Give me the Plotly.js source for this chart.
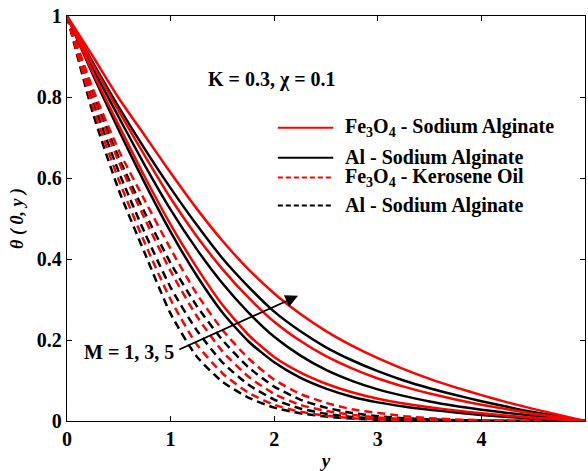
<!DOCTYPE html>
<html>
<head>
<meta charset="utf-8">
<script src="https://cdn.plot.ly/plotly-3.0.1.min.js"></script>
<style>html,body{margin:0;padding:0;background:#fff}#chart{width:588px;height:471px}</style>
</head>
<body>
<div id="chart"></div>
<script>
// distance y (uniform step 0.25)
const yPos = [0, 0.25, 0.5, 0.75, 1, 1.25, 1.5, 1.75, 2, 2.25, 2.5, 2.75, 3, 3.25, 3.5, 3.75, 4, 4.25, 4.5, 4.75, 5];

// Fe3O4 - Sodium Alginate (solid red), M = 1, 3, 5
const feSA_M1 = [1, 0.86, 0.73, 0.603, 0.485, 0.38, 0.287, 0.213, 0.158, 0.12, 0.092, 0.071, 0.055, 0.043, 0.034, 0.026, 0.019, 0.013, 0.008, 0.004, 0];
const feSA_M3 = [1, 0.88, 0.765, 0.655, 0.55, 0.457, 0.375, 0.305, 0.245, 0.198, 0.16, 0.13, 0.105, 0.085, 0.068, 0.053, 0.04, 0.029, 0.018, 0.009, 0];
const feSA_M5 = [1, 0.90, 0.797, 0.705, 0.613, 0.525, 0.445, 0.375, 0.315, 0.265, 0.222, 0.186, 0.155, 0.128, 0.104, 0.083, 0.064, 0.046, 0.03, 0.015, 0];

// Al - Sodium Alginate (solid black), M = 1, 3, 5
const alSA_M1 = [1, 0.855, 0.718, 0.588, 0.467, 0.36, 0.268, 0.197, 0.145, 0.107, 0.08, 0.06, 0.046, 0.036, 0.028, 0.021, 0.015, 0.01, 0.006, 0.003, 0];
const alSA_M3 = [1, 0.87, 0.75, 0.632, 0.522, 0.425, 0.34, 0.268, 0.208, 0.162, 0.126, 0.099, 0.078, 0.062, 0.048, 0.037, 0.028, 0.02, 0.013, 0.006, 0];
const alSA_M5 = [1, 0.885, 0.775, 0.672, 0.575, 0.485, 0.402, 0.332, 0.27, 0.222, 0.182, 0.15, 0.123, 0.10, 0.081, 0.064, 0.049, 0.035, 0.022, 0.011, 0];

// Fe3O4 - Kerosene Oil (dashed red), M = 1, 3, 5
const feKO_M1 = [1, 0.775, 0.595, 0.44, 0.30, 0.19, 0.118, 0.07, 0.04, 0.023, 0.013, 0.007, 0.004, 0.002, 0.001, 0, 0, 0, 0, 0, 0];
const feKO_M3 = [1, 0.80, 0.64, 0.50, 0.37, 0.26, 0.172, 0.11, 0.067, 0.04, 0.025, 0.015, 0.009, 0.005, 0.003, 0.002, 0.001, 0, 0, 0, 0];
const feKO_M5 = [1, 0.82, 0.668, 0.545, 0.425, 0.315, 0.225, 0.155, 0.102, 0.067, 0.045, 0.029, 0.02, 0.012, 0.007, 0.004, 0.002, 0.001, 0, 0, 0];

// Al - Sodium Alginate (dashed black), M = 1, 3, 5
const alD_M1 = [1, 0.76, 0.57, 0.415, 0.265, 0.16, 0.097, 0.058, 0.033, 0.019, 0.011, 0.006, 0.003, 0.002, 0.001, 0, 0, 0, 0, 0, 0];
const alD_M3 = [1, 0.79, 0.615, 0.465, 0.33, 0.225, 0.145, 0.09, 0.053, 0.031, 0.018, 0.01, 0.006, 0.003, 0.002, 0.001, 0, 0, 0, 0, 0];
const alD_M5 = [1, 0.81, 0.65, 0.515, 0.39, 0.285, 0.20, 0.133, 0.085, 0.053, 0.033, 0.02, 0.012, 0.007, 0.004, 0.002, 0.001, 0, 0, 0, 0];

const legendNames = ["Fe<sub>3</sub>O<sub>4</sub> - Sodium Alginate", "Al - Sodium Alginate",
                     "Fe<sub>3</sub>O<sub>4</sub> - Kerosene Oil", "Al - Sodium Alginate"];
const xTicks = [0, 1, 2, 3, 4, 5];
const yTicks = [0, 0.2, 0.4, 0.6, 0.8, 1];

const FONT = "Liberation Serif, Times New Roman, serif";
const LW = 2.5;
const DASH = "8px,5px";

function tr(y, color, dash, name) {
  return {x: yPos, y: y, type: "scatter", mode: "lines", name: name, showlegend: false,
          line: {color: color, width: LW, dash: dash, shape: "spline", smoothing: 0.6}};
}

const traces = [
  tr(alD_M1, "#000000", DASH, "Al - Sodium Alginate, M=1"),
  tr(alD_M3, "#000000", DASH, "Al - Sodium Alginate, M=3"),
  tr(alD_M5, "#000000", DASH, "Al - Sodium Alginate, M=5"),
  tr(feKO_M1, "#ff0000", DASH, "Fe3O4 - Kerosene Oil, M=1"),
  tr(feKO_M3, "#ff0000", DASH, "Fe3O4 - Kerosene Oil, M=3"),
  tr(feKO_M5, "#ff0000", DASH, "Fe3O4 - Kerosene Oil, M=5"),
  tr(alSA_M1, "#000000", "solid", "Al - Sodium Alginate, M=1"),
  tr(alSA_M3, "#000000", "solid", "Al - Sodium Alginate, M=3"),
  tr(alSA_M5, "#000000", "solid", "Al - Sodium Alginate, M=5"),
  tr(feSA_M1, "#ff0000", "solid", "Fe3O4 - Sodium Alginate, M=1"),
  tr(feSA_M3, "#ff0000", "solid", "Fe3O4 - Sodium Alginate, M=3"),
  tr(feSA_M5, "#ff0000", "solid", "Fe3O4 - Sodium Alginate, M=5")
];

// custom legend (paper coordinates)
const legRows = [0.724, 0.650, 0.601, 0.532];
const legColors = ["#ff0000", "#000000", "#ff0000", "#000000"];
const legDash = ["solid", "solid", "dash", "dash"];
const shapes = legRows.map((yy, i) => ({
  type: "line", xref: "paper", yref: "paper", x0: 0.407, x1: 0.514, y0: yy, y1: yy,
  line: {color: legColors[i], width: 2, dash: legDash[i] === "dash" ? "5px,3px" : "solid"}
}));
const tf = {family: FONT, size: 20, color: "#000", weight: "bold"};
const annotations = legRows.map((yy, i) => ({
  xref: "paper", yref: "paper", x: 0.533, y: yy, xanchor: "left", yanchor: "middle",
  text: legendNames[i], showarrow: false, font: tf
}));
annotations.push({xref: "paper", yref: "paper", x: 0.268, y: 0.842, xanchor: "left", yanchor: "middle",
  text: "K = 0.3, χ = 0.1", showarrow: false, font: tf});
annotations.push({xref: "x", yref: "y", x: 0.6, y: 0.17, xanchor: "center", yanchor: "middle",
  text: "M = 1, 3, 5", showarrow: false, font: tf});
annotations.push({xref: "x", yref: "y", x: 2.23, y: 0.309, axref: "x", ayref: "y", ax: 1.07, ay: 0.175,
  text: "", showarrow: true, arrowhead: 2, arrowsize: 1.4, arrowwidth: 1.8, arrowcolor: "#000"});

const layout = {
  width: 588, height: 471,
  margin: {l: 67, r: 3, t: 16, b: 50},
  paper_bgcolor: "#fff", plot_bgcolor: "#fff",
  showlegend: false,
  xaxis: {range: [0, 5], tickvals: xTicks, ticks: "inside", ticklen: 5, tickwidth: 1, tickcolor: "#000",
          showline: true, mirror: "ticks", linecolor: "#000", linewidth: 1.2, showgrid: false, zeroline: false,
          tickfont: tf,
          title: {text: "y", font: {family: FONT, size: 19, color: "#000", weight: "bold", style: "italic"}, standoff: 4}},
  yaxis: {range: [0, 1], tickvals: yTicks, ticks: "inside", ticklen: 5, tickwidth: 1, tickcolor: "#000",
          showline: true, mirror: "ticks", linecolor: "#000", linewidth: 1.2, showgrid: false, zeroline: false,
          tickfont: tf,
          title: {text: "θ ( 0, y )", font: {family: FONT, size: 18, color: "#000", weight: "bold", style: "italic"}, standoff: 8}},
  shapes: shapes,
  annotations: annotations
};

Plotly.newPlot("chart", traces, layout, {staticPlot: true, displayModeBar: false});
</script>
</body>
</html>
